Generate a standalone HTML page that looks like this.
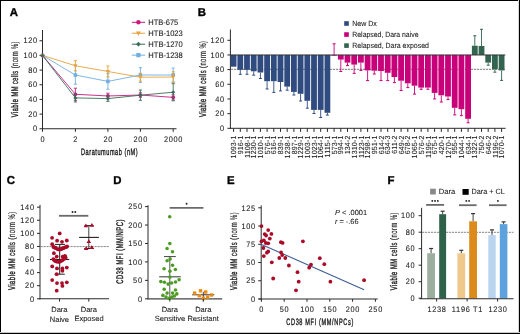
<!DOCTYPE html>
<html><head><meta charset="utf-8"><style>
html,body{margin:0;padding:0;background:#fff;}
svg{display:block;will-change:transform;}
text{font-family:"Liberation Sans", sans-serif;text-rendering:geometricPrecision;}
.t{stroke:#1c1c1c;stroke-width:0.09;}
</style></head><body>
<svg width="520" height="334" viewBox="0 0 520 334">
<rect x="0" y="0" width="520" height="334" fill="#fff"/>
<text x="9.70" y="16.30" font-size="11.4" text-anchor="start" fill="#000" font-weight="bold" stroke="#000" stroke-width="0.35" style="">A</text>
<line x1="42.50" y1="30.00" x2="42.50" y2="129.25" stroke="#2a2a2a" stroke-width="1" />
<line x1="39.50" y1="128.75" x2="42.50" y2="128.75" stroke="#2a2a2a" stroke-width="1" />
<text x="0" y="0" transform="translate(37.89,131.45) scale(0.92,1)" font-size="8.0" text-anchor="end" fill="#1c1c1c" font-weight="normal" class="t" style="letter-spacing:0.75px;">0</text>
<line x1="39.50" y1="114.08" x2="42.50" y2="114.08" stroke="#2a2a2a" stroke-width="1" />
<text x="0" y="0" transform="translate(37.89,116.78) scale(0.92,1)" font-size="8.0" text-anchor="end" fill="#1c1c1c" font-weight="normal" class="t" style="letter-spacing:0.75px;">20</text>
<line x1="39.50" y1="99.42" x2="42.50" y2="99.42" stroke="#2a2a2a" stroke-width="1" />
<text x="0" y="0" transform="translate(37.89,102.12) scale(0.92,1)" font-size="8.0" text-anchor="end" fill="#1c1c1c" font-weight="normal" class="t" style="letter-spacing:0.75px;">40</text>
<line x1="39.50" y1="84.75" x2="42.50" y2="84.75" stroke="#2a2a2a" stroke-width="1" />
<text x="0" y="0" transform="translate(37.89,87.45) scale(0.92,1)" font-size="8.0" text-anchor="end" fill="#1c1c1c" font-weight="normal" class="t" style="letter-spacing:0.75px;">60</text>
<line x1="39.50" y1="70.09" x2="42.50" y2="70.09" stroke="#2a2a2a" stroke-width="1" />
<text x="0" y="0" transform="translate(37.89,72.79) scale(0.92,1)" font-size="8.0" text-anchor="end" fill="#1c1c1c" font-weight="normal" class="t" style="letter-spacing:0.75px;">80</text>
<line x1="39.50" y1="55.42" x2="42.50" y2="55.42" stroke="#2a2a2a" stroke-width="1" />
<text x="0" y="0" transform="translate(37.89,58.12) scale(0.92,1)" font-size="8.0" text-anchor="end" fill="#1c1c1c" font-weight="normal" class="t" style="letter-spacing:0.75px;">100</text>
<line x1="39.50" y1="40.75" x2="42.50" y2="40.75" stroke="#2a2a2a" stroke-width="1" />
<text x="0" y="0" transform="translate(37.89,43.45) scale(0.92,1)" font-size="8.0" text-anchor="end" fill="#1c1c1c" font-weight="normal" class="t" style="letter-spacing:0.75px;">120</text>
<line x1="42.00" y1="128.75" x2="176.50" y2="128.75" stroke="#2a2a2a" stroke-width="1" />
<line x1="42.50" y1="128.75" x2="42.50" y2="131.80" stroke="#2a2a2a" stroke-width="1" />
<text x="0" y="0" transform="translate(42.84,141.70) scale(0.92,1)" font-size="8.0" text-anchor="middle" fill="#1c1c1c" font-weight="normal" class="t" style="letter-spacing:0.75px;">0</text>
<line x1="75.40" y1="128.75" x2="75.40" y2="131.80" stroke="#2a2a2a" stroke-width="1" />
<text x="0" y="0" transform="translate(75.75,141.70) scale(0.92,1)" font-size="8.0" text-anchor="middle" fill="#1c1c1c" font-weight="normal" class="t" style="letter-spacing:0.75px;">2</text>
<line x1="107.90" y1="128.75" x2="107.90" y2="131.80" stroke="#2a2a2a" stroke-width="1" />
<text x="0" y="0" transform="translate(108.25,141.70) scale(0.92,1)" font-size="8.0" text-anchor="middle" fill="#1c1c1c" font-weight="normal" class="t" style="letter-spacing:0.75px;">20</text>
<line x1="140.40" y1="128.75" x2="140.40" y2="131.80" stroke="#2a2a2a" stroke-width="1" />
<text x="0" y="0" transform="translate(140.75,141.70) scale(0.92,1)" font-size="8.0" text-anchor="middle" fill="#1c1c1c" font-weight="normal" class="t" style="letter-spacing:0.75px;">200</text>
<line x1="173.20" y1="128.75" x2="173.20" y2="131.80" stroke="#2a2a2a" stroke-width="1" />
<text x="0" y="0" transform="translate(173.54,141.70) scale(0.92,1)" font-size="8.0" text-anchor="middle" fill="#1c1c1c" font-weight="normal" class="t" style="letter-spacing:0.75px;">2000</text>
<text x="0" y="0" font-size="9.3" text-anchor="start" fill="#1c1c1c" stroke="#1c1c1c" stroke-width="0.4" textLength="94.33" lengthAdjust="spacing" transform="translate(81.00,154.90) scale(0.6,1)">Daratumumab (nM)</text>
<text x="0" y="0" font-size="9.6" text-anchor="middle" fill="#1c1c1c" stroke="#1c1c1c" stroke-width="0.4" textLength="126.00" lengthAdjust="spacing" transform="translate(17.80,79.40) rotate(-90) scale(0.6,1)"><tspan stroke-width="0.4">Viable MM</tspan><tspan stroke-width="0.3"> cells</tspan><tspan stroke-width="0.15"> (norm %)</tspan></text>
<polyline points="42.50,55.42 75.40,65.76 107.90,71.48 140.40,77.20 173.20,77.05" fill="none" stroke="#e6a23c" stroke-width="0.9"/>
<polyline points="42.50,55.42 75.40,75.07 107.90,81.38 140.40,75.00 173.20,75.00" fill="none" stroke="#70aee0" stroke-width="0.9"/>
<polyline points="42.50,55.42 75.40,94.28 107.90,95.97 140.40,95.02 173.20,97.36" fill="none" stroke="#c8197f" stroke-width="0.9"/>
<polyline points="42.50,55.42 75.40,97.88 107.90,98.61 140.40,95.20 173.20,92.23" fill="none" stroke="#3a6e55" stroke-width="0.9"/>
<rect x="40.72" y="53.64" width="3.57" height="3.57" fill="#70aee0"/>
<line x1="75.40" y1="65.91" x2="75.40" y2="84.24" stroke="#70aee0" stroke-width="0.9" />
<line x1="73.80" y1="65.91" x2="77.00" y2="65.91" stroke="#70aee0" stroke-width="0.9" />
<line x1="73.80" y1="84.24" x2="77.00" y2="84.24" stroke="#70aee0" stroke-width="0.9" />
<rect x="73.62" y="73.29" width="3.57" height="3.57" fill="#70aee0"/>
<line x1="107.90" y1="73.46" x2="107.90" y2="89.30" stroke="#70aee0" stroke-width="0.9" />
<line x1="106.30" y1="73.46" x2="109.50" y2="73.46" stroke="#70aee0" stroke-width="0.9" />
<line x1="106.30" y1="89.30" x2="109.50" y2="89.30" stroke="#70aee0" stroke-width="0.9" />
<rect x="106.12" y="79.59" width="3.57" height="3.57" fill="#70aee0"/>
<line x1="140.40" y1="67.67" x2="140.40" y2="82.33" stroke="#70aee0" stroke-width="0.9" />
<line x1="138.80" y1="67.67" x2="142.00" y2="67.67" stroke="#70aee0" stroke-width="0.9" />
<line x1="138.80" y1="82.33" x2="142.00" y2="82.33" stroke="#70aee0" stroke-width="0.9" />
<rect x="138.62" y="73.21" width="3.57" height="3.57" fill="#70aee0"/>
<line x1="173.20" y1="68.03" x2="173.20" y2="81.97" stroke="#70aee0" stroke-width="0.9" />
<line x1="171.60" y1="68.03" x2="174.80" y2="68.03" stroke="#70aee0" stroke-width="0.9" />
<line x1="171.60" y1="81.97" x2="174.80" y2="81.97" stroke="#70aee0" stroke-width="0.9" />
<rect x="171.41" y="73.21" width="3.57" height="3.57" fill="#70aee0"/>
<circle cx="42.50" cy="55.42" r="1.87" fill="#c8197f"/>
<line x1="75.40" y1="88.20" x2="75.40" y2="100.37" stroke="#c8197f" stroke-width="0.9" />
<line x1="73.80" y1="88.20" x2="77.00" y2="88.20" stroke="#c8197f" stroke-width="0.9" />
<line x1="73.80" y1="100.37" x2="77.00" y2="100.37" stroke="#c8197f" stroke-width="0.9" />
<circle cx="75.40" cy="94.28" r="1.87" fill="#c8197f"/>
<line x1="107.90" y1="93.18" x2="107.90" y2="98.76" stroke="#c8197f" stroke-width="0.9" />
<line x1="106.30" y1="93.18" x2="109.50" y2="93.18" stroke="#c8197f" stroke-width="0.9" />
<line x1="106.30" y1="98.76" x2="109.50" y2="98.76" stroke="#c8197f" stroke-width="0.9" />
<circle cx="107.90" cy="95.97" r="1.87" fill="#c8197f"/>
<line x1="140.40" y1="92.82" x2="140.40" y2="97.22" stroke="#c8197f" stroke-width="0.9" />
<line x1="138.80" y1="92.82" x2="142.00" y2="92.82" stroke="#c8197f" stroke-width="0.9" />
<line x1="138.80" y1="97.22" x2="142.00" y2="97.22" stroke="#c8197f" stroke-width="0.9" />
<circle cx="140.40" cy="95.02" r="1.87" fill="#c8197f"/>
<line x1="173.20" y1="94.80" x2="173.20" y2="99.93" stroke="#c8197f" stroke-width="0.9" />
<line x1="171.60" y1="94.80" x2="174.80" y2="94.80" stroke="#c8197f" stroke-width="0.9" />
<line x1="171.60" y1="99.93" x2="174.80" y2="99.93" stroke="#c8197f" stroke-width="0.9" />
<circle cx="173.20" cy="97.36" r="1.87" fill="#c8197f"/>
<polygon points="40.38,53.89 44.62,53.89 42.50,57.46" fill="#e6a23c"/>
<line x1="75.40" y1="60.63" x2="75.40" y2="70.89" stroke="#e6a23c" stroke-width="0.9" />
<line x1="73.80" y1="60.63" x2="77.00" y2="60.63" stroke="#e6a23c" stroke-width="0.9" />
<line x1="73.80" y1="70.89" x2="77.00" y2="70.89" stroke="#e6a23c" stroke-width="0.9" />
<polygon points="73.28,64.23 77.53,64.23 75.40,67.80" fill="#e6a23c"/>
<line x1="107.90" y1="65.98" x2="107.90" y2="76.98" stroke="#e6a23c" stroke-width="0.9" />
<line x1="106.30" y1="65.98" x2="109.50" y2="65.98" stroke="#e6a23c" stroke-width="0.9" />
<line x1="106.30" y1="76.98" x2="109.50" y2="76.98" stroke="#e6a23c" stroke-width="0.9" />
<polygon points="105.78,69.95 110.03,69.95 107.90,73.52" fill="#e6a23c"/>
<line x1="140.40" y1="73.31" x2="140.40" y2="81.09" stroke="#e6a23c" stroke-width="0.9" />
<line x1="138.80" y1="73.31" x2="142.00" y2="73.31" stroke="#e6a23c" stroke-width="0.9" />
<line x1="138.80" y1="81.09" x2="142.00" y2="81.09" stroke="#e6a23c" stroke-width="0.9" />
<polygon points="138.28,75.67 142.53,75.67 140.40,79.24" fill="#e6a23c"/>
<line x1="173.20" y1="71.77" x2="173.20" y2="82.33" stroke="#e6a23c" stroke-width="0.9" />
<line x1="171.60" y1="71.77" x2="174.80" y2="71.77" stroke="#e6a23c" stroke-width="0.9" />
<line x1="171.60" y1="82.33" x2="174.80" y2="82.33" stroke="#e6a23c" stroke-width="0.9" />
<polygon points="171.07,75.52 175.32,75.52 173.20,79.09" fill="#e6a23c"/>
<polygon points="42.50,53.38 44.54,55.42 42.50,57.46 40.46,55.42" fill="#3a6e55"/>
<line x1="75.40" y1="93.77" x2="75.40" y2="101.98" stroke="#3a6e55" stroke-width="0.9" />
<line x1="73.80" y1="93.77" x2="77.00" y2="93.77" stroke="#3a6e55" stroke-width="0.9" />
<line x1="73.80" y1="101.98" x2="77.00" y2="101.98" stroke="#3a6e55" stroke-width="0.9" />
<polygon points="75.40,95.84 77.44,97.88 75.40,99.92 73.36,97.88" fill="#3a6e55"/>
<line x1="107.90" y1="95.82" x2="107.90" y2="101.40" stroke="#3a6e55" stroke-width="0.9" />
<line x1="106.30" y1="95.82" x2="109.50" y2="95.82" stroke="#3a6e55" stroke-width="0.9" />
<line x1="106.30" y1="101.40" x2="109.50" y2="101.40" stroke="#3a6e55" stroke-width="0.9" />
<polygon points="107.90,96.57 109.94,98.61 107.90,100.65 105.86,98.61" fill="#3a6e55"/>
<line x1="140.40" y1="90.07" x2="140.40" y2="100.33" stroke="#3a6e55" stroke-width="0.9" />
<line x1="138.80" y1="90.07" x2="142.00" y2="90.07" stroke="#3a6e55" stroke-width="0.9" />
<line x1="138.80" y1="100.33" x2="142.00" y2="100.33" stroke="#3a6e55" stroke-width="0.9" />
<polygon points="140.40,93.16 142.44,95.20 140.40,97.24 138.36,95.20" fill="#3a6e55"/>
<line x1="173.20" y1="83.65" x2="173.20" y2="100.81" stroke="#3a6e55" stroke-width="0.9" />
<line x1="171.60" y1="83.65" x2="174.80" y2="83.65" stroke="#3a6e55" stroke-width="0.9" />
<line x1="171.60" y1="100.81" x2="174.80" y2="100.81" stroke="#3a6e55" stroke-width="0.9" />
<polygon points="173.20,90.19 175.24,92.23 173.20,94.27 171.16,92.23" fill="#3a6e55"/>
<line x1="131.80" y1="22.30" x2="145.10" y2="22.30" stroke="#c8197f" stroke-width="1.0" />
<circle cx="138.40" cy="22.30" r="2.2" fill="#c8197f"/>
<text x="148.30" y="25.00" font-size="8.0" text-anchor="start" fill="#1c1c1c" font-weight="normal" textLength="30.0" lengthAdjust="spacingAndGlyphs" class="t" style="">HTB-675</text>
<line x1="131.80" y1="33.25" x2="145.10" y2="33.25" stroke="#e6a23c" stroke-width="1.0" />
<polygon points="135.90,31.45 140.90,31.45 138.40,35.65" fill="#e6a23c"/>
<text x="148.30" y="35.95" font-size="8.0" text-anchor="start" fill="#1c1c1c" font-weight="normal" textLength="34.5" lengthAdjust="spacingAndGlyphs" class="t" style="">HTB-1023</text>
<line x1="131.80" y1="44.20" x2="145.10" y2="44.20" stroke="#3a6e55" stroke-width="1.0" />
<polygon points="138.40,41.80 140.80,44.20 138.40,46.60 136.00,44.20" fill="#3a6e55"/>
<text x="148.30" y="46.90" font-size="8.0" text-anchor="start" fill="#1c1c1c" font-weight="normal" textLength="34.5" lengthAdjust="spacingAndGlyphs" class="t" style="">HTB-1270</text>
<line x1="131.80" y1="55.15" x2="145.10" y2="55.15" stroke="#70aee0" stroke-width="1.0" />
<rect x="136.30" y="53.05" width="4.20" height="4.20" fill="#70aee0"/>
<text x="148.30" y="57.85" font-size="8.0" text-anchor="start" fill="#1c1c1c" font-weight="normal" textLength="34.5" lengthAdjust="spacingAndGlyphs" class="t" style="">HTB-1238</text>
<text x="197.80" y="16.30" font-size="11.4" text-anchor="start" fill="#000" font-weight="bold" stroke="#000" stroke-width="0.35" style="">B</text>
<line x1="230.40" y1="29.50" x2="230.40" y2="128.80" stroke="#2a2a2a" stroke-width="1" />
<line x1="227.40" y1="128.30" x2="230.40" y2="128.30" stroke="#2a2a2a" stroke-width="1" />
<text x="0" y="0" transform="translate(224.89,131.00) scale(0.92,1)" font-size="8.0" text-anchor="end" fill="#1c1c1c" font-weight="normal" class="t" style="letter-spacing:0.75px;">0</text>
<line x1="227.40" y1="113.63" x2="230.40" y2="113.63" stroke="#2a2a2a" stroke-width="1" />
<text x="0" y="0" transform="translate(224.89,116.33) scale(0.92,1)" font-size="8.0" text-anchor="end" fill="#1c1c1c" font-weight="normal" class="t" style="letter-spacing:0.75px;">20</text>
<line x1="227.40" y1="98.97" x2="230.40" y2="98.97" stroke="#2a2a2a" stroke-width="1" />
<text x="0" y="0" transform="translate(224.89,101.67) scale(0.92,1)" font-size="8.0" text-anchor="end" fill="#1c1c1c" font-weight="normal" class="t" style="letter-spacing:0.75px;">40</text>
<line x1="227.40" y1="84.30" x2="230.40" y2="84.30" stroke="#2a2a2a" stroke-width="1" />
<text x="0" y="0" transform="translate(224.89,87.00) scale(0.92,1)" font-size="8.0" text-anchor="end" fill="#1c1c1c" font-weight="normal" class="t" style="letter-spacing:0.75px;">60</text>
<line x1="227.40" y1="69.64" x2="230.40" y2="69.64" stroke="#2a2a2a" stroke-width="1" />
<text x="0" y="0" transform="translate(224.89,72.34) scale(0.92,1)" font-size="8.0" text-anchor="end" fill="#1c1c1c" font-weight="normal" class="t" style="letter-spacing:0.75px;">80</text>
<line x1="227.40" y1="54.97" x2="230.40" y2="54.97" stroke="#2a2a2a" stroke-width="1" />
<text x="0" y="0" transform="translate(224.89,57.67) scale(0.92,1)" font-size="8.0" text-anchor="end" fill="#1c1c1c" font-weight="normal" class="t" style="letter-spacing:0.75px;">100</text>
<line x1="227.40" y1="40.30" x2="230.40" y2="40.30" stroke="#2a2a2a" stroke-width="1" />
<text x="0" y="0" transform="translate(224.89,43.00) scale(0.92,1)" font-size="8.0" text-anchor="end" fill="#1c1c1c" font-weight="normal" class="t" style="letter-spacing:0.75px;">120</text>
<text x="0" y="0" font-size="9.6" text-anchor="middle" fill="#1c1c1c" stroke="#1c1c1c" stroke-width="0.4" textLength="126.50" lengthAdjust="spacing" transform="translate(205.70,79.05) rotate(-90) scale(0.6,1)"><tspan stroke-width="0.4">Viable MM</tspan><tspan stroke-width="0.3"> cells</tspan><tspan stroke-width="0.15"> (norm %)</tspan></text>
<line x1="230.90" y1="69.30" x2="505.00" y2="69.30" stroke="#5a5a5a" stroke-width="0.8" stroke-dasharray="2.2,0.8"/>
<rect x="230.70" y="54.97" width="5.80" height="11.73" fill="#2f4b80"/>
<line x1="233.60" y1="128.30" x2="233.60" y2="131.90" stroke="#2a2a2a" stroke-width="1" />
<text class="t" x="0.2" y="0" font-size="7.4" text-anchor="end" fill="#1c1c1c" style="letter-spacing:0.2px" transform="translate(236.25,135.6) rotate(-90) scale(0.95,1)">1093-1</text>
<rect x="237.40" y="54.97" width="5.80" height="14.83" fill="#2f4b80"/>
<line x1="240.30" y1="69.80" x2="240.30" y2="74.30" stroke="#2f4b80" stroke-width="0.9" />
<line x1="238.80" y1="74.30" x2="241.80" y2="74.30" stroke="#2f4b80" stroke-width="1.0" />
<line x1="240.30" y1="128.30" x2="240.30" y2="131.90" stroke="#2a2a2a" stroke-width="1" />
<text class="t" x="0.2" y="0" font-size="7.4" text-anchor="end" fill="#1c1c1c" style="letter-spacing:0.2px" transform="translate(242.95,135.6) rotate(-90) scale(0.95,1)">916-1</text>
<rect x="244.10" y="54.97" width="5.80" height="14.83" fill="#2f4b80"/>
<line x1="247.00" y1="69.80" x2="247.00" y2="74.30" stroke="#2f4b80" stroke-width="0.9" />
<line x1="245.50" y1="74.30" x2="248.50" y2="74.30" stroke="#2f4b80" stroke-width="1.0" />
<line x1="247.00" y1="128.30" x2="247.00" y2="131.90" stroke="#2a2a2a" stroke-width="1" />
<text class="t" x="0.2" y="0" font-size="7.4" text-anchor="end" fill="#1c1c1c" style="letter-spacing:0.2px" transform="translate(249.65,135.6) rotate(-90) scale(0.95,1)">1108-1</text>
<rect x="250.80" y="54.97" width="5.80" height="16.33" fill="#2f4b80"/>
<line x1="253.70" y1="71.30" x2="253.70" y2="75.20" stroke="#2f4b80" stroke-width="0.9" />
<line x1="252.20" y1="75.20" x2="255.20" y2="75.20" stroke="#2f4b80" stroke-width="1.0" />
<line x1="253.70" y1="128.30" x2="253.70" y2="131.90" stroke="#2a2a2a" stroke-width="1" />
<text class="t" x="0.2" y="0" font-size="7.4" text-anchor="end" fill="#1c1c1c" style="letter-spacing:0.2px" transform="translate(256.35,135.6) rotate(-90) scale(0.95,1)">1230-1</text>
<rect x="257.50" y="54.97" width="5.80" height="17.53" fill="#2f4b80"/>
<line x1="260.40" y1="72.50" x2="260.40" y2="78.50" stroke="#2f4b80" stroke-width="0.9" />
<line x1="258.90" y1="78.50" x2="261.90" y2="78.50" stroke="#2f4b80" stroke-width="1.0" />
<line x1="260.40" y1="128.30" x2="260.40" y2="131.90" stroke="#2a2a2a" stroke-width="1" />
<text class="t" x="0.2" y="0" font-size="7.4" text-anchor="end" fill="#1c1c1c" style="letter-spacing:0.2px" transform="translate(263.05,135.6) rotate(-90) scale(0.95,1)">1010-1</text>
<rect x="264.20" y="54.97" width="5.80" height="26.23" fill="#2f4b80"/>
<line x1="267.10" y1="81.20" x2="267.10" y2="89.00" stroke="#2f4b80" stroke-width="0.9" />
<line x1="265.60" y1="89.00" x2="268.60" y2="89.00" stroke="#2f4b80" stroke-width="1.0" />
<line x1="267.10" y1="128.30" x2="267.10" y2="131.90" stroke="#2a2a2a" stroke-width="1" />
<text class="t" x="0.2" y="0" font-size="7.4" text-anchor="end" fill="#1c1c1c" style="letter-spacing:0.2px" transform="translate(269.75,135.6) rotate(-90) scale(0.95,1)">576-1</text>
<rect x="270.90" y="54.97" width="5.80" height="26.23" fill="#2f4b80"/>
<line x1="273.80" y1="81.20" x2="273.80" y2="92.40" stroke="#2f4b80" stroke-width="0.9" />
<line x1="272.30" y1="92.40" x2="275.30" y2="92.40" stroke="#2f4b80" stroke-width="1.0" />
<line x1="273.80" y1="128.30" x2="273.80" y2="131.90" stroke="#2a2a2a" stroke-width="1" />
<text class="t" x="0.2" y="0" font-size="7.4" text-anchor="end" fill="#1c1c1c" style="letter-spacing:0.2px" transform="translate(276.45,135.6) rotate(-90) scale(0.95,1)">616-1</text>
<rect x="277.60" y="54.97" width="5.80" height="27.03" fill="#2f4b80"/>
<line x1="280.50" y1="82.00" x2="280.50" y2="90.90" stroke="#2f4b80" stroke-width="0.9" />
<line x1="279.00" y1="90.90" x2="282.00" y2="90.90" stroke="#2f4b80" stroke-width="1.0" />
<line x1="280.50" y1="128.30" x2="280.50" y2="131.90" stroke="#2a2a2a" stroke-width="1" />
<text class="t" x="0.2" y="0" font-size="7.4" text-anchor="end" fill="#1c1c1c" style="letter-spacing:0.2px" transform="translate(283.15,135.6) rotate(-90) scale(0.95,1)">839-1</text>
<rect x="284.30" y="54.97" width="5.80" height="31.63" fill="#2f4b80"/>
<line x1="287.20" y1="86.60" x2="287.20" y2="90.20" stroke="#2f4b80" stroke-width="0.9" />
<line x1="285.70" y1="90.20" x2="288.70" y2="90.20" stroke="#2f4b80" stroke-width="1.0" />
<line x1="287.20" y1="128.30" x2="287.20" y2="131.90" stroke="#2a2a2a" stroke-width="1" />
<text class="t" x="0.2" y="0" font-size="7.4" text-anchor="end" fill="#1c1c1c" style="letter-spacing:0.2px" transform="translate(289.85,135.6) rotate(-90) scale(0.95,1)">1238-1</text>
<rect x="291.00" y="54.97" width="5.80" height="36.93" fill="#2f4b80"/>
<line x1="293.90" y1="91.90" x2="293.90" y2="95.00" stroke="#2f4b80" stroke-width="0.9" />
<line x1="292.40" y1="95.00" x2="295.40" y2="95.00" stroke="#2f4b80" stroke-width="1.0" />
<line x1="293.90" y1="128.30" x2="293.90" y2="131.90" stroke="#2a2a2a" stroke-width="1" />
<text class="t" x="0.2" y="0" font-size="7.4" text-anchor="end" fill="#1c1c1c" style="letter-spacing:0.2px" transform="translate(296.55,135.6) rotate(-90) scale(0.95,1)">897-1</text>
<rect x="297.70" y="54.97" width="5.80" height="38.83" fill="#2f4b80"/>
<line x1="300.60" y1="93.80" x2="300.60" y2="101.00" stroke="#2f4b80" stroke-width="0.9" />
<line x1="299.10" y1="101.00" x2="302.10" y2="101.00" stroke="#2f4b80" stroke-width="1.0" />
<line x1="300.60" y1="128.30" x2="300.60" y2="131.90" stroke="#2a2a2a" stroke-width="1" />
<text class="t" x="0.2" y="0" font-size="7.4" text-anchor="end" fill="#1c1c1c" style="letter-spacing:0.2px" transform="translate(303.25,135.6) rotate(-90) scale(0.95,1)">1229-1</text>
<rect x="304.40" y="54.97" width="5.80" height="45.83" fill="#2f4b80"/>
<line x1="307.30" y1="100.80" x2="307.30" y2="108.20" stroke="#2f4b80" stroke-width="0.9" />
<line x1="305.80" y1="108.20" x2="308.80" y2="108.20" stroke="#2f4b80" stroke-width="1.0" />
<line x1="307.30" y1="128.30" x2="307.30" y2="131.90" stroke="#2a2a2a" stroke-width="1" />
<text class="t" x="0.2" y="0" font-size="7.4" text-anchor="end" fill="#1c1c1c" style="letter-spacing:0.2px" transform="translate(309.95,135.6) rotate(-90) scale(0.95,1)">1003-1</text>
<rect x="311.10" y="54.97" width="5.80" height="54.93" fill="#2f4b80"/>
<line x1="314.00" y1="109.90" x2="314.00" y2="113.50" stroke="#2f4b80" stroke-width="0.9" />
<line x1="312.50" y1="113.50" x2="315.50" y2="113.50" stroke="#2f4b80" stroke-width="1.0" />
<line x1="314.00" y1="128.30" x2="314.00" y2="131.90" stroke="#2a2a2a" stroke-width="1" />
<text class="t" x="0.2" y="0" font-size="7.4" text-anchor="end" fill="#1c1c1c" style="letter-spacing:0.2px" transform="translate(316.65,135.6) rotate(-90) scale(0.95,1)">1023-1</text>
<rect x="317.80" y="54.97" width="5.80" height="54.93" fill="#2f4b80"/>
<line x1="320.70" y1="109.90" x2="320.70" y2="117.50" stroke="#2f4b80" stroke-width="0.9" />
<line x1="319.20" y1="117.50" x2="322.20" y2="117.50" stroke="#2f4b80" stroke-width="1.0" />
<line x1="320.70" y1="128.30" x2="320.70" y2="131.90" stroke="#2a2a2a" stroke-width="1" />
<text class="t" x="0.2" y="0" font-size="7.4" text-anchor="end" fill="#1c1c1c" style="letter-spacing:0.2px" transform="translate(323.35,135.6) rotate(-90) scale(0.95,1)">1064-1</text>
<rect x="324.50" y="54.97" width="5.80" height="57.83" fill="#2f4b80"/>
<line x1="327.40" y1="112.80" x2="327.40" y2="115.10" stroke="#2f4b80" stroke-width="0.9" />
<line x1="325.90" y1="115.10" x2="328.90" y2="115.10" stroke="#2f4b80" stroke-width="1.0" />
<line x1="327.40" y1="128.30" x2="327.40" y2="131.90" stroke="#2a2a2a" stroke-width="1" />
<text class="t" x="0.2" y="0" font-size="7.4" text-anchor="end" fill="#1c1c1c" style="letter-spacing:0.2px" transform="translate(330.05,135.6) rotate(-90) scale(0.95,1)">1115-1</text>
<rect x="331.20" y="54.97" width="5.80" height="0.63" fill="#c8007a"/>
<line x1="334.10" y1="55.60" x2="334.10" y2="43.80" stroke="#c8007a" stroke-width="0.9" />
<line x1="332.60" y1="43.80" x2="335.60" y2="43.80" stroke="#c8007a" stroke-width="1.0" />
<line x1="334.10" y1="128.30" x2="334.10" y2="131.90" stroke="#2a2a2a" stroke-width="1" />
<text class="t" x="0.2" y="0" font-size="7.4" text-anchor="end" fill="#1c1c1c" style="letter-spacing:0.2px" transform="translate(336.75,135.6) rotate(-90) scale(0.95,1)">573-1</text>
<rect x="337.90" y="54.97" width="5.80" height="4.63" fill="#c8007a"/>
<line x1="340.80" y1="59.60" x2="340.80" y2="71.50" stroke="#c8007a" stroke-width="0.9" />
<line x1="339.30" y1="71.50" x2="342.30" y2="71.50" stroke="#c8007a" stroke-width="1.0" />
<line x1="340.80" y1="128.30" x2="340.80" y2="131.90" stroke="#2a2a2a" stroke-width="1" />
<text class="t" x="0.2" y="0" font-size="7.4" text-anchor="end" fill="#1c1c1c" style="letter-spacing:0.2px" transform="translate(343.45,135.6) rotate(-90) scale(0.95,1)">994-1</text>
<rect x="344.60" y="54.97" width="5.80" height="7.63" fill="#c8007a"/>
<line x1="347.50" y1="62.60" x2="347.50" y2="65.60" stroke="#c8007a" stroke-width="0.9" />
<line x1="346.00" y1="65.60" x2="349.00" y2="65.60" stroke="#c8007a" stroke-width="1.0" />
<line x1="347.50" y1="128.30" x2="347.50" y2="131.90" stroke="#2a2a2a" stroke-width="1" />
<text class="t" x="0.2" y="0" font-size="7.4" text-anchor="end" fill="#1c1c1c" style="letter-spacing:0.2px" transform="translate(350.15,135.6) rotate(-90) scale(0.95,1)">134-2</text>
<rect x="351.30" y="54.97" width="5.80" height="9.63" fill="#c8007a"/>
<line x1="354.20" y1="64.60" x2="354.20" y2="73.40" stroke="#c8007a" stroke-width="0.9" />
<line x1="352.70" y1="73.40" x2="355.70" y2="73.40" stroke="#c8007a" stroke-width="1.0" />
<line x1="354.20" y1="128.30" x2="354.20" y2="131.90" stroke="#2a2a2a" stroke-width="1" />
<text class="t" x="0.2" y="0" font-size="7.4" text-anchor="end" fill="#1c1c1c" style="letter-spacing:0.2px" transform="translate(356.85,135.6) rotate(-90) scale(0.95,1)">1310-1</text>
<rect x="358.00" y="54.97" width="5.80" height="7.63" fill="#c8007a"/>
<line x1="360.90" y1="62.60" x2="360.90" y2="70.40" stroke="#c8007a" stroke-width="0.9" />
<line x1="359.40" y1="70.40" x2="362.40" y2="70.40" stroke="#c8007a" stroke-width="1.0" />
<line x1="360.90" y1="128.30" x2="360.90" y2="131.90" stroke="#2a2a2a" stroke-width="1" />
<text class="t" x="0.2" y="0" font-size="7.4" text-anchor="end" fill="#1c1c1c" style="letter-spacing:0.2px" transform="translate(363.55,135.6) rotate(-90) scale(0.95,1)">1123-1</text>
<rect x="364.70" y="54.97" width="5.80" height="15.43" fill="#c8007a"/>
<line x1="367.60" y1="70.40" x2="367.60" y2="80.60" stroke="#c8007a" stroke-width="0.9" />
<line x1="366.10" y1="80.60" x2="369.10" y2="80.60" stroke="#c8007a" stroke-width="1.0" />
<line x1="367.60" y1="128.30" x2="367.60" y2="131.90" stroke="#2a2a2a" stroke-width="1" />
<text class="t" x="0.2" y="0" font-size="7.4" text-anchor="end" fill="#1c1c1c" style="letter-spacing:0.2px" transform="translate(370.25,135.6) rotate(-90) scale(0.95,1)">1298-1</text>
<rect x="371.40" y="54.97" width="5.80" height="15.73" fill="#c8007a"/>
<line x1="374.30" y1="70.70" x2="374.30" y2="74.00" stroke="#c8007a" stroke-width="0.9" />
<line x1="372.80" y1="74.00" x2="375.80" y2="74.00" stroke="#c8007a" stroke-width="1.0" />
<line x1="374.30" y1="128.30" x2="374.30" y2="131.90" stroke="#2a2a2a" stroke-width="1" />
<text class="t" x="0.2" y="0" font-size="7.4" text-anchor="end" fill="#1c1c1c" style="letter-spacing:0.2px" transform="translate(376.95,135.6) rotate(-90) scale(0.95,1)">951-1</text>
<rect x="378.10" y="54.97" width="5.80" height="16.03" fill="#c8007a"/>
<line x1="381.00" y1="71.00" x2="381.00" y2="80.60" stroke="#c8007a" stroke-width="0.9" />
<line x1="379.50" y1="80.60" x2="382.50" y2="80.60" stroke="#c8007a" stroke-width="1.0" />
<line x1="381.00" y1="128.30" x2="381.00" y2="131.90" stroke="#2a2a2a" stroke-width="1" />
<text class="t" x="0.2" y="0" font-size="7.4" text-anchor="end" fill="#1c1c1c" style="letter-spacing:0.2px" transform="translate(383.65,135.6) rotate(-90) scale(0.95,1)">614-2</text>
<rect x="384.80" y="54.97" width="5.80" height="17.83" fill="#c8007a"/>
<line x1="387.70" y1="72.80" x2="387.70" y2="80.60" stroke="#c8007a" stroke-width="0.9" />
<line x1="386.20" y1="80.60" x2="389.20" y2="80.60" stroke="#c8007a" stroke-width="1.0" />
<line x1="387.70" y1="128.30" x2="387.70" y2="131.90" stroke="#2a2a2a" stroke-width="1" />
<text class="t" x="0.2" y="0" font-size="7.4" text-anchor="end" fill="#1c1c1c" style="letter-spacing:0.2px" transform="translate(390.35,135.6) rotate(-90) scale(0.95,1)">634-3</text>
<rect x="391.50" y="54.97" width="5.80" height="22.03" fill="#c8007a"/>
<line x1="394.40" y1="77.00" x2="394.40" y2="82.60" stroke="#c8007a" stroke-width="0.9" />
<line x1="392.90" y1="82.60" x2="395.90" y2="82.60" stroke="#c8007a" stroke-width="1.0" />
<line x1="394.40" y1="128.30" x2="394.40" y2="131.90" stroke="#2a2a2a" stroke-width="1" />
<text class="t" x="0.2" y="0" font-size="7.4" text-anchor="end" fill="#1c1c1c" style="letter-spacing:0.2px" transform="translate(397.05,135.6) rotate(-90) scale(0.95,1)">611-2</text>
<rect x="398.20" y="54.97" width="5.80" height="25.73" fill="#c8007a"/>
<line x1="401.10" y1="80.70" x2="401.10" y2="90.50" stroke="#c8007a" stroke-width="0.9" />
<line x1="399.60" y1="90.50" x2="402.60" y2="90.50" stroke="#c8007a" stroke-width="1.0" />
<line x1="401.10" y1="128.30" x2="401.10" y2="131.90" stroke="#2a2a2a" stroke-width="1" />
<text class="t" x="0.2" y="0" font-size="7.4" text-anchor="end" fill="#1c1c1c" style="letter-spacing:0.2px" transform="translate(403.75,135.6) rotate(-90) scale(0.95,1)">649-2</text>
<rect x="404.90" y="54.97" width="5.80" height="28.33" fill="#c8007a"/>
<line x1="407.80" y1="83.30" x2="407.80" y2="87.60" stroke="#c8007a" stroke-width="0.9" />
<line x1="406.30" y1="87.60" x2="409.30" y2="87.60" stroke="#c8007a" stroke-width="1.0" />
<line x1="407.80" y1="128.30" x2="407.80" y2="131.90" stroke="#2a2a2a" stroke-width="1" />
<text class="t" x="0.2" y="0" font-size="7.4" text-anchor="end" fill="#1c1c1c" style="letter-spacing:0.2px" transform="translate(410.45,135.6) rotate(-90) scale(0.95,1)">678-2</text>
<rect x="411.60" y="54.97" width="5.80" height="30.73" fill="#c8007a"/>
<line x1="414.50" y1="85.70" x2="414.50" y2="94.10" stroke="#c8007a" stroke-width="0.9" />
<line x1="413.00" y1="94.10" x2="416.00" y2="94.10" stroke="#c8007a" stroke-width="1.0" />
<line x1="414.50" y1="128.30" x2="414.50" y2="131.90" stroke="#2a2a2a" stroke-width="1" />
<text class="t" x="0.2" y="0" font-size="7.4" text-anchor="end" fill="#1c1c1c" style="letter-spacing:0.2px" transform="translate(417.15,135.6) rotate(-90) scale(0.95,1)">1065-1</text>
<rect x="418.30" y="54.97" width="5.80" height="32.63" fill="#c8007a"/>
<line x1="421.20" y1="87.60" x2="421.20" y2="89.30" stroke="#c8007a" stroke-width="0.9" />
<line x1="419.70" y1="89.30" x2="422.70" y2="89.30" stroke="#c8007a" stroke-width="1.0" />
<line x1="421.20" y1="128.30" x2="421.20" y2="131.90" stroke="#2a2a2a" stroke-width="1" />
<text class="t" x="0.2" y="0" font-size="7.4" text-anchor="end" fill="#1c1c1c" style="letter-spacing:0.2px" transform="translate(423.85,135.6) rotate(-90) scale(0.95,1)">576-2</text>
<rect x="425.00" y="54.97" width="5.80" height="32.63" fill="#c8007a"/>
<line x1="427.90" y1="87.60" x2="427.90" y2="89.30" stroke="#c8007a" stroke-width="0.9" />
<line x1="426.40" y1="89.30" x2="429.40" y2="89.30" stroke="#c8007a" stroke-width="1.0" />
<line x1="427.90" y1="128.30" x2="427.90" y2="131.90" stroke="#2a2a2a" stroke-width="1" />
<text class="t" x="0.2" y="0" font-size="7.4" text-anchor="end" fill="#1c1c1c" style="letter-spacing:0.2px" transform="translate(430.55,135.6) rotate(-90) scale(0.95,1)">1196-1</text>
<rect x="431.70" y="54.97" width="5.80" height="37.93" fill="#c8007a"/>
<line x1="434.60" y1="92.90" x2="434.60" y2="98.90" stroke="#c8007a" stroke-width="0.9" />
<line x1="433.10" y1="98.90" x2="436.10" y2="98.90" stroke="#c8007a" stroke-width="1.0" />
<line x1="434.60" y1="128.30" x2="434.60" y2="131.90" stroke="#2a2a2a" stroke-width="1" />
<text class="t" x="0.2" y="0" font-size="7.4" text-anchor="end" fill="#1c1c1c" style="letter-spacing:0.2px" transform="translate(437.25,135.6) rotate(-90) scale(0.95,1)">675-1</text>
<rect x="438.40" y="54.97" width="5.80" height="40.33" fill="#c8007a"/>
<line x1="441.30" y1="95.30" x2="441.30" y2="102.00" stroke="#c8007a" stroke-width="0.9" />
<line x1="439.80" y1="102.00" x2="442.80" y2="102.00" stroke="#c8007a" stroke-width="1.0" />
<line x1="441.30" y1="128.30" x2="441.30" y2="131.90" stroke="#2a2a2a" stroke-width="1" />
<text class="t" x="0.2" y="0" font-size="7.4" text-anchor="end" fill="#1c1c1c" style="letter-spacing:0.2px" transform="translate(443.95,135.6) rotate(-90) scale(0.95,1)">420-1</text>
<rect x="445.10" y="54.97" width="5.80" height="41.53" fill="#c8007a"/>
<line x1="448.00" y1="96.50" x2="448.00" y2="99.60" stroke="#c8007a" stroke-width="0.9" />
<line x1="446.50" y1="99.60" x2="449.50" y2="99.60" stroke="#c8007a" stroke-width="1.0" />
<line x1="448.00" y1="128.30" x2="448.00" y2="131.90" stroke="#2a2a2a" stroke-width="1" />
<text class="t" x="0.2" y="0" font-size="7.4" text-anchor="end" fill="#1c1c1c" style="letter-spacing:0.2px" transform="translate(450.65,135.6) rotate(-90) scale(0.95,1)">1270-1</text>
<rect x="451.80" y="54.97" width="5.80" height="52.83" fill="#c8007a"/>
<line x1="454.70" y1="107.80" x2="454.70" y2="114.90" stroke="#c8007a" stroke-width="0.9" />
<line x1="453.20" y1="114.90" x2="456.20" y2="114.90" stroke="#c8007a" stroke-width="1.0" />
<line x1="454.70" y1="128.30" x2="454.70" y2="131.90" stroke="#2a2a2a" stroke-width="1" />
<text class="t" x="0.2" y="0" font-size="7.4" text-anchor="end" fill="#1c1c1c" style="letter-spacing:0.2px" transform="translate(457.35,135.6) rotate(-90) scale(0.95,1)">955-1</text>
<rect x="458.50" y="54.97" width="5.80" height="54.23" fill="#c8007a"/>
<line x1="461.40" y1="109.20" x2="461.40" y2="115.70" stroke="#c8007a" stroke-width="0.9" />
<line x1="459.90" y1="115.70" x2="462.90" y2="115.70" stroke="#c8007a" stroke-width="1.0" />
<line x1="461.40" y1="128.30" x2="461.40" y2="131.90" stroke="#2a2a2a" stroke-width="1" />
<text class="t" x="0.2" y="0" font-size="7.4" text-anchor="end" fill="#1c1c1c" style="letter-spacing:0.2px" transform="translate(464.05,135.6) rotate(-90) scale(0.95,1)">1044-1</text>
<rect x="465.20" y="54.97" width="5.80" height="63.83" fill="#c8007a"/>
<line x1="468.10" y1="118.80" x2="468.10" y2="122.80" stroke="#c8007a" stroke-width="0.9" />
<line x1="466.60" y1="122.80" x2="469.60" y2="122.80" stroke="#c8007a" stroke-width="1.0" />
<line x1="468.10" y1="128.30" x2="468.10" y2="131.90" stroke="#2a2a2a" stroke-width="1" />
<text class="t" x="0.2" y="0" font-size="7.4" text-anchor="end" fill="#1c1c1c" style="letter-spacing:0.2px" transform="translate(470.75,135.6) rotate(-90) scale(0.95,1)">634-1</text>
<rect x="471.90" y="45.70" width="5.80" height="9.27" fill="#326450"/>
<line x1="474.80" y1="45.70" x2="474.80" y2="35.80" stroke="#326450" stroke-width="0.9" />
<line x1="473.30" y1="35.80" x2="476.30" y2="35.80" stroke="#326450" stroke-width="1.0" />
<line x1="474.80" y1="128.30" x2="474.80" y2="131.90" stroke="#2a2a2a" stroke-width="1" />
<text class="t" x="0.2" y="0" font-size="7.4" text-anchor="end" fill="#1c1c1c" style="letter-spacing:0.2px" transform="translate(477.45,135.6) rotate(-90) scale(0.95,1)">1322-1</text>
<rect x="478.60" y="46.00" width="5.80" height="8.97" fill="#326450"/>
<line x1="481.50" y1="46.00" x2="481.50" y2="29.30" stroke="#326450" stroke-width="0.9" />
<line x1="480.00" y1="29.30" x2="483.00" y2="29.30" stroke="#326450" stroke-width="1.0" />
<line x1="481.50" y1="128.30" x2="481.50" y2="131.90" stroke="#2a2a2a" stroke-width="1" />
<text class="t" x="0.2" y="0" font-size="7.4" text-anchor="end" fill="#1c1c1c" style="letter-spacing:0.2px" transform="translate(484.15,135.6) rotate(-90) scale(0.95,1)">750-2</text>
<rect x="485.30" y="54.97" width="5.80" height="7.63" fill="#326450"/>
<line x1="488.20" y1="62.60" x2="488.20" y2="65.20" stroke="#326450" stroke-width="0.9" />
<line x1="486.70" y1="65.20" x2="489.70" y2="65.20" stroke="#326450" stroke-width="1.0" />
<line x1="488.20" y1="128.30" x2="488.20" y2="131.90" stroke="#2a2a2a" stroke-width="1" />
<text class="t" x="0.2" y="0" font-size="7.4" text-anchor="end" fill="#1c1c1c" style="letter-spacing:0.2px" transform="translate(490.85,135.6) rotate(-90) scale(0.95,1)">646-2</text>
<rect x="492.00" y="54.97" width="5.80" height="14.13" fill="#326450"/>
<line x1="494.90" y1="69.10" x2="494.90" y2="72.20" stroke="#326450" stroke-width="0.9" />
<line x1="493.40" y1="72.20" x2="496.40" y2="72.20" stroke="#326450" stroke-width="1.0" />
<line x1="494.90" y1="128.30" x2="494.90" y2="131.90" stroke="#2a2a2a" stroke-width="1" />
<text class="t" x="0.2" y="0" font-size="7.4" text-anchor="end" fill="#1c1c1c" style="letter-spacing:0.2px" transform="translate(497.55,135.6) rotate(-90) scale(0.95,1)">1196-2</text>
<rect x="498.70" y="54.97" width="5.80" height="15.43" fill="#326450"/>
<line x1="501.60" y1="70.40" x2="501.60" y2="80.40" stroke="#326450" stroke-width="0.9" />
<line x1="500.10" y1="80.40" x2="503.10" y2="80.40" stroke="#326450" stroke-width="1.0" />
<line x1="501.60" y1="128.30" x2="501.60" y2="131.90" stroke="#2a2a2a" stroke-width="1" />
<text class="t" x="0.2" y="0" font-size="7.4" text-anchor="end" fill="#1c1c1c" style="letter-spacing:0.2px" transform="translate(504.25,135.6) rotate(-90) scale(0.95,1)">1070-1</text>
<line x1="230.90" y1="54.97" x2="505.30" y2="54.97" stroke="#333" stroke-width="1" />
<line x1="230.00" y1="128.30" x2="505.60" y2="128.30" stroke="#2a2a2a" stroke-width="1" />
<rect x="344.20" y="21.20" width="4.60" height="4.60" fill="#2f4b80"/>
<text x="352.30" y="26.10" font-size="7.6" text-anchor="start" fill="#1c1c1c" font-weight="normal" textLength="24.6" lengthAdjust="spacingAndGlyphs" class="t" style="">New Dx</text>
<rect x="344.20" y="32.25" width="4.60" height="4.60" fill="#c8007a"/>
<text x="352.30" y="37.15" font-size="7.6" text-anchor="start" fill="#1c1c1c" font-weight="normal" textLength="66.2" lengthAdjust="spacingAndGlyphs" class="t" style="">Relapsed, Dara naive</text>
<rect x="344.20" y="43.30" width="4.60" height="4.60" fill="#326450"/>
<text x="352.30" y="48.20" font-size="7.6" text-anchor="start" fill="#1c1c1c" font-weight="normal" textLength="76.6" lengthAdjust="spacingAndGlyphs" class="t" style="">Relapsed, Dara exposed</text>
<text x="6.80" y="183.70" font-size="11.4" text-anchor="start" fill="#000" font-weight="bold" stroke="#000" stroke-width="0.35" style="">C</text>
<line x1="40.00" y1="204.80" x2="40.00" y2="299.30" stroke="#2a2a2a" stroke-width="1" />
<line x1="37.00" y1="298.80" x2="40.00" y2="298.80" stroke="#2a2a2a" stroke-width="1" />
<text x="0" y="0" transform="translate(34.69,301.50) scale(0.92,1)" font-size="8.0" text-anchor="end" fill="#1c1c1c" font-weight="normal" class="t" style="letter-spacing:0.75px;">0</text>
<line x1="37.00" y1="285.71" x2="40.00" y2="285.71" stroke="#2a2a2a" stroke-width="1" />
<text x="0" y="0" transform="translate(34.69,288.41) scale(0.92,1)" font-size="8.0" text-anchor="end" fill="#1c1c1c" font-weight="normal" class="t" style="letter-spacing:0.75px;">20</text>
<line x1="37.00" y1="272.62" x2="40.00" y2="272.62" stroke="#2a2a2a" stroke-width="1" />
<text x="0" y="0" transform="translate(34.69,275.32) scale(0.92,1)" font-size="8.0" text-anchor="end" fill="#1c1c1c" font-weight="normal" class="t" style="letter-spacing:0.75px;">40</text>
<line x1="37.00" y1="259.53" x2="40.00" y2="259.53" stroke="#2a2a2a" stroke-width="1" />
<text x="0" y="0" transform="translate(34.69,262.23) scale(0.92,1)" font-size="8.0" text-anchor="end" fill="#1c1c1c" font-weight="normal" class="t" style="letter-spacing:0.75px;">60</text>
<line x1="37.00" y1="246.44" x2="40.00" y2="246.44" stroke="#2a2a2a" stroke-width="1" />
<text x="0" y="0" transform="translate(34.69,249.14) scale(0.92,1)" font-size="8.0" text-anchor="end" fill="#1c1c1c" font-weight="normal" class="t" style="letter-spacing:0.75px;">80</text>
<line x1="37.00" y1="233.35" x2="40.00" y2="233.35" stroke="#2a2a2a" stroke-width="1" />
<text x="0" y="0" transform="translate(34.69,236.05) scale(0.92,1)" font-size="8.0" text-anchor="end" fill="#1c1c1c" font-weight="normal" class="t" style="letter-spacing:0.75px;">100</text>
<line x1="37.00" y1="220.26" x2="40.00" y2="220.26" stroke="#2a2a2a" stroke-width="1" />
<text x="0" y="0" transform="translate(34.69,222.96) scale(0.92,1)" font-size="8.0" text-anchor="end" fill="#1c1c1c" font-weight="normal" class="t" style="letter-spacing:0.75px;">120</text>
<line x1="37.00" y1="207.17" x2="40.00" y2="207.17" stroke="#2a2a2a" stroke-width="1" />
<text x="0" y="0" transform="translate(34.69,209.87) scale(0.92,1)" font-size="8.0" text-anchor="end" fill="#1c1c1c" font-weight="normal" class="t" style="letter-spacing:0.75px;">140</text>
<text x="0" y="0" font-size="9.6" text-anchor="middle" fill="#1c1c1c" stroke="#1c1c1c" stroke-width="0.4" textLength="130.17" lengthAdjust="spacing" transform="translate(14.90,250.95) rotate(-90) scale(0.6,1)"><tspan stroke-width="0.4">Viable MM</tspan><tspan stroke-width="0.3"> cells</tspan><tspan stroke-width="0.15"> (norm %)</tspan></text>
<line x1="40.50" y1="246.60" x2="109.00" y2="246.60" stroke="#6a6a6a" stroke-width="0.8" stroke-dasharray="2.2,0.8"/>
<line x1="39.50" y1="298.80" x2="109.00" y2="298.80" stroke="#2a2a2a" stroke-width="1.1" />
<line x1="59.70" y1="244.40" x2="59.70" y2="274.20" stroke="#222" stroke-width="1" />
<line x1="54.90" y1="244.40" x2="65.00" y2="244.40" stroke="#222" stroke-width="1" />
<line x1="54.60" y1="274.20" x2="64.80" y2="274.20" stroke="#222" stroke-width="1" />
<line x1="50.00" y1="259.50" x2="69.30" y2="259.50" stroke="#222" stroke-width="1.1" />
<circle cx="59.70" cy="233.40" r="1.9" fill="#aa0a28"/>
<circle cx="52.10" cy="237.80" r="1.9" fill="#aa0a28"/>
<circle cx="57.10" cy="240.70" r="1.9" fill="#aa0a28"/>
<circle cx="62.00" cy="241.80" r="1.9" fill="#aa0a28"/>
<circle cx="66.80" cy="240.50" r="1.9" fill="#aa0a28"/>
<circle cx="52.20" cy="244.20" r="1.9" fill="#aa0a28"/>
<circle cx="53.40" cy="246.90" r="1.9" fill="#aa0a28"/>
<circle cx="55.60" cy="248.00" r="1.9" fill="#aa0a28"/>
<circle cx="57.50" cy="249.10" r="1.9" fill="#aa0a28"/>
<circle cx="59.70" cy="249.50" r="1.9" fill="#aa0a28"/>
<circle cx="62.00" cy="248.70" r="1.9" fill="#aa0a28"/>
<circle cx="64.60" cy="247.60" r="1.9" fill="#aa0a28"/>
<circle cx="67.10" cy="246.50" r="1.9" fill="#aa0a28"/>
<circle cx="53.90" cy="253.20" r="1.9" fill="#aa0a28"/>
<circle cx="56.70" cy="256.60" r="1.9" fill="#aa0a28"/>
<circle cx="62.70" cy="256.60" r="1.9" fill="#aa0a28"/>
<circle cx="65.00" cy="255.80" r="1.9" fill="#aa0a28"/>
<circle cx="53.40" cy="259.10" r="1.9" fill="#aa0a28"/>
<circle cx="55.20" cy="261.10" r="1.9" fill="#aa0a28"/>
<circle cx="58.20" cy="261.80" r="1.9" fill="#aa0a28"/>
<circle cx="60.80" cy="261.10" r="1.9" fill="#aa0a28"/>
<circle cx="63.10" cy="259.60" r="1.9" fill="#aa0a28"/>
<circle cx="65.70" cy="257.70" r="1.9" fill="#aa0a28"/>
<circle cx="52.20" cy="266.40" r="1.9" fill="#aa0a28"/>
<circle cx="57.00" cy="268.40" r="1.9" fill="#aa0a28"/>
<circle cx="62.40" cy="268.40" r="1.9" fill="#aa0a28"/>
<circle cx="62.40" cy="270.80" r="1.9" fill="#aa0a28"/>
<circle cx="66.80" cy="267.60" r="1.9" fill="#aa0a28"/>
<circle cx="56.70" cy="274.20" r="1.9" fill="#aa0a28"/>
<circle cx="52.20" cy="280.10" r="1.9" fill="#aa0a28"/>
<circle cx="57.00" cy="283.10" r="1.9" fill="#aa0a28"/>
<circle cx="62.00" cy="283.10" r="1.9" fill="#aa0a28"/>
<circle cx="62.40" cy="285.90" r="1.9" fill="#aa0a28"/>
<circle cx="66.80" cy="282.30" r="1.9" fill="#aa0a28"/>
<circle cx="56.70" cy="290.70" r="1.9" fill="#aa0a28"/>
<circle cx="54.50" cy="247.50" r="1.9" fill="#aa0a28"/>
<circle cx="58.60" cy="249.40" r="1.9" fill="#aa0a28"/>
<circle cx="60.90" cy="249.20" r="1.9" fill="#aa0a28"/>
<circle cx="63.30" cy="248.20" r="1.9" fill="#aa0a28"/>
<circle cx="66.00" cy="247.00" r="1.9" fill="#aa0a28"/>
<circle cx="54.30" cy="260.20" r="1.9" fill="#aa0a28"/>
<circle cx="56.70" cy="261.60" r="1.9" fill="#aa0a28"/>
<circle cx="59.50" cy="261.80" r="1.9" fill="#aa0a28"/>
<circle cx="62.00" cy="260.40" r="1.9" fill="#aa0a28"/>
<circle cx="64.40" cy="258.70" r="1.9" fill="#aa0a28"/>
<line x1="88.80" y1="225.60" x2="88.80" y2="248.50" stroke="#444" stroke-width="1" />
<line x1="84.50" y1="225.60" x2="93.70" y2="225.60" stroke="#222" stroke-width="1" />
<line x1="84.30" y1="248.50" x2="93.70" y2="248.50" stroke="#222" stroke-width="1" />
<line x1="79.10" y1="237.40" x2="98.90" y2="237.40" stroke="#222" stroke-width="1.1" />
<polygon points="83.60,227.32 88.20,227.32 85.90,223.41" fill="#aa0a28"/>
<polygon points="89.60,226.82 94.20,226.82 91.90,222.91" fill="#aa0a28"/>
<polygon points="86.50,243.12 91.10,243.12 88.80,239.22" fill="#aa0a28"/>
<polygon points="83.90,250.03 88.50,250.03 86.20,246.12" fill="#aa0a28"/>
<polygon points="89.50,249.03 94.10,249.03 91.80,245.12" fill="#aa0a28"/>
<line x1="59.00" y1="215.80" x2="88.30" y2="215.80" stroke="#6a6a6a" stroke-width="1.8" />
<circle cx="72.53" cy="212.00" r="0.95" fill="#222"/>
<circle cx="75.28" cy="212.00" r="0.95" fill="#222"/>
<line x1="59.50" y1="298.80" x2="59.50" y2="301.60" stroke="#2a2a2a" stroke-width="1" />
<line x1="88.80" y1="298.80" x2="88.80" y2="301.60" stroke="#2a2a2a" stroke-width="1" />
<text x="59.40" y="312.20" font-size="7.5" text-anchor="middle" fill="#1c1c1c" font-weight="normal" class="t" style="">Dara</text>
<text x="59.40" y="321.60" font-size="7.5" text-anchor="middle" fill="#1c1c1c" font-weight="normal" class="t" style="">Naive</text>
<text x="88.90" y="312.20" font-size="7.5" text-anchor="middle" fill="#1c1c1c" font-weight="normal" class="t" style="">Dara</text>
<text x="89.00" y="321.00" font-size="7.5" text-anchor="middle" fill="#1c1c1c" font-weight="normal" class="t" style="">Exposed</text>
<text x="113.20" y="183.70" font-size="11.4" text-anchor="start" fill="#000" font-weight="bold" stroke="#000" stroke-width="0.35" style="">D</text>
<line x1="148.00" y1="205.20" x2="148.00" y2="299.30" stroke="#2a2a2a" stroke-width="1" />
<line x1="145.00" y1="298.80" x2="148.00" y2="298.80" stroke="#2a2a2a" stroke-width="1" />
<text x="0" y="0" transform="translate(142.69,301.50) scale(0.92,1)" font-size="8.0" text-anchor="end" fill="#1c1c1c" font-weight="normal" class="t" style="letter-spacing:0.75px;">0</text>
<line x1="145.00" y1="280.36" x2="148.00" y2="280.36" stroke="#2a2a2a" stroke-width="1" />
<text x="0" y="0" transform="translate(142.69,283.06) scale(0.92,1)" font-size="8.0" text-anchor="end" fill="#1c1c1c" font-weight="normal" class="t" style="letter-spacing:0.75px;">50</text>
<line x1="145.00" y1="261.92" x2="148.00" y2="261.92" stroke="#2a2a2a" stroke-width="1" />
<text x="0" y="0" transform="translate(142.69,264.62) scale(0.92,1)" font-size="8.0" text-anchor="end" fill="#1c1c1c" font-weight="normal" class="t" style="letter-spacing:0.75px;">100</text>
<line x1="145.00" y1="243.48" x2="148.00" y2="243.48" stroke="#2a2a2a" stroke-width="1" />
<text x="0" y="0" transform="translate(142.69,246.18) scale(0.92,1)" font-size="8.0" text-anchor="end" fill="#1c1c1c" font-weight="normal" class="t" style="letter-spacing:0.75px;">150</text>
<line x1="145.00" y1="225.04" x2="148.00" y2="225.04" stroke="#2a2a2a" stroke-width="1" />
<text x="0" y="0" transform="translate(142.69,227.74) scale(0.92,1)" font-size="8.0" text-anchor="end" fill="#1c1c1c" font-weight="normal" class="t" style="letter-spacing:0.75px;">200</text>
<line x1="145.00" y1="206.60" x2="148.00" y2="206.60" stroke="#2a2a2a" stroke-width="1" />
<text x="0" y="0" transform="translate(142.69,209.30) scale(0.92,1)" font-size="8.0" text-anchor="end" fill="#1c1c1c" font-weight="normal" class="t" style="letter-spacing:0.75px;">250</text>
<text x="0" y="0" font-size="9.6" text-anchor="middle" fill="#1c1c1c" stroke="#1c1c1c" stroke-width="0.4" textLength="106.83" lengthAdjust="spacing" transform="translate(122.80,251.65) rotate(-90) scale(0.6,1)">CD38 MFI (MM/NPC)</text>
<line x1="147.50" y1="298.80" x2="222.20" y2="298.80" stroke="#444" stroke-width="1.2" />
<line x1="169.80" y1="256.60" x2="169.80" y2="298.80" stroke="#555" stroke-width="1" />
<line x1="164.00" y1="256.60" x2="175.80" y2="256.60" stroke="#444" stroke-width="1" />
<line x1="159.20" y1="276.80" x2="180.70" y2="276.80" stroke="#444" stroke-width="1.1" />
<circle cx="169.70" cy="216.80" r="1.8" fill="#4c9c22"/>
<circle cx="169.80" cy="243.60" r="1.8" fill="#4c9c22"/>
<circle cx="167.10" cy="248.50" r="1.8" fill="#4c9c22"/>
<circle cx="172.50" cy="251.70" r="1.8" fill="#4c9c22"/>
<circle cx="167.10" cy="260.80" r="1.8" fill="#4c9c22"/>
<circle cx="170.10" cy="259.00" r="1.8" fill="#4c9c22"/>
<circle cx="172.50" cy="265.30" r="1.8" fill="#4c9c22"/>
<circle cx="164.10" cy="268.80" r="1.8" fill="#4c9c22"/>
<circle cx="175.40" cy="269.50" r="1.8" fill="#4c9c22"/>
<circle cx="169.90" cy="271.30" r="1.8" fill="#4c9c22"/>
<circle cx="169.90" cy="277.10" r="1.8" fill="#4c9c22"/>
<circle cx="160.80" cy="281.60" r="1.8" fill="#4c9c22"/>
<circle cx="164.40" cy="282.30" r="1.8" fill="#4c9c22"/>
<circle cx="168.10" cy="284.10" r="1.8" fill="#4c9c22"/>
<circle cx="171.60" cy="283.00" r="1.8" fill="#4c9c22"/>
<circle cx="175.50" cy="282.00" r="1.8" fill="#4c9c22"/>
<circle cx="179.10" cy="279.70" r="1.8" fill="#4c9c22"/>
<circle cx="164.20" cy="289.30" r="1.8" fill="#4c9c22"/>
<circle cx="175.50" cy="290.00" r="1.8" fill="#4c9c22"/>
<circle cx="167.10" cy="293.10" r="1.8" fill="#4c9c22"/>
<circle cx="172.60" cy="293.10" r="1.8" fill="#4c9c22"/>
<circle cx="176.80" cy="293.90" r="1.8" fill="#4c9c22"/>
<circle cx="162.90" cy="295.40" r="1.8" fill="#4c9c22"/>
<circle cx="166.00" cy="297.00" r="1.8" fill="#4c9c22"/>
<circle cx="169.20" cy="298.40" r="1.8" fill="#4c9c22"/>
<circle cx="171.80" cy="297.00" r="1.8" fill="#4c9c22"/>
<circle cx="174.40" cy="296.00" r="1.8" fill="#4c9c22"/>
<line x1="203.30" y1="291.80" x2="203.30" y2="301.30" stroke="#333" stroke-width="0.9" />
<line x1="192.20" y1="294.80" x2="214.30" y2="294.80" stroke="#333" stroke-width="1" />
<rect x="192.90" y="291.40" width="3.40" height="3.40" fill="#e88c14"/>
<rect x="198.80" y="289.10" width="3.40" height="3.40" fill="#e88c14"/>
<rect x="204.00" y="290.30" width="3.40" height="3.40" fill="#e88c14"/>
<rect x="197.60" y="294.00" width="3.40" height="3.40" fill="#e88c14"/>
<rect x="205.90" y="295.50" width="3.40" height="3.40" fill="#e88c14"/>
<rect x="201.60" y="296.60" width="3.40" height="3.40" fill="#e88c14"/>
<rect x="209.80" y="293.30" width="3.40" height="3.40" fill="#e88c14"/>
<line x1="169.70" y1="207.80" x2="203.40" y2="207.80" stroke="#6a6a6a" stroke-width="1.8" />
<circle cx="186.60" cy="203.80" r="0.95" fill="#222"/>
<line x1="169.80" y1="298.80" x2="169.80" y2="301.60" stroke="#2a2a2a" stroke-width="1" />
<line x1="203.30" y1="298.80" x2="203.30" y2="301.60" stroke="#2a2a2a" stroke-width="1" />
<text x="169.80" y="312.20" font-size="7.5" text-anchor="middle" fill="#1c1c1c" font-weight="normal" class="t" style="">Dara</text>
<text x="170.00" y="321.40" font-size="7.5" text-anchor="middle" fill="#1c1c1c" font-weight="normal" class="t" style="">Sensitive</text>
<text x="203.30" y="312.20" font-size="7.5" text-anchor="middle" fill="#1c1c1c" font-weight="normal" class="t" style="">Dara</text>
<text x="203.10" y="321.40" font-size="7.5" text-anchor="middle" fill="#1c1c1c" font-weight="normal" class="t" style="">Resistant</text>
<text x="227.00" y="183.70" font-size="11.4" text-anchor="start" fill="#000" font-weight="bold" stroke="#000" stroke-width="0.35" style="">E</text>
<line x1="261.20" y1="205.40" x2="261.20" y2="299.50" stroke="#2a2a2a" stroke-width="1" />
<line x1="258.20" y1="299.00" x2="261.20" y2="299.00" stroke="#2a2a2a" stroke-width="1" />
<text x="0" y="0" transform="translate(255.89,301.70) scale(0.92,1)" font-size="8.0" text-anchor="end" fill="#1c1c1c" font-weight="normal" class="t" style="letter-spacing:0.75px;">0</text>
<line x1="258.20" y1="280.76" x2="261.20" y2="280.76" stroke="#2a2a2a" stroke-width="1" />
<text x="0" y="0" transform="translate(255.89,283.46) scale(0.92,1)" font-size="8.0" text-anchor="end" fill="#1c1c1c" font-weight="normal" class="t" style="letter-spacing:0.75px;">25</text>
<line x1="258.20" y1="262.52" x2="261.20" y2="262.52" stroke="#2a2a2a" stroke-width="1" />
<text x="0" y="0" transform="translate(255.89,265.22) scale(0.92,1)" font-size="8.0" text-anchor="end" fill="#1c1c1c" font-weight="normal" class="t" style="letter-spacing:0.75px;">50</text>
<line x1="258.20" y1="244.28" x2="261.20" y2="244.28" stroke="#2a2a2a" stroke-width="1" />
<text x="0" y="0" transform="translate(255.89,246.98) scale(0.92,1)" font-size="8.0" text-anchor="end" fill="#1c1c1c" font-weight="normal" class="t" style="letter-spacing:0.75px;">75</text>
<line x1="258.20" y1="226.04" x2="261.20" y2="226.04" stroke="#2a2a2a" stroke-width="1" />
<text x="0" y="0" transform="translate(255.89,228.74) scale(0.92,1)" font-size="8.0" text-anchor="end" fill="#1c1c1c" font-weight="normal" class="t" style="letter-spacing:0.75px;">100</text>
<line x1="258.20" y1="207.80" x2="261.20" y2="207.80" stroke="#2a2a2a" stroke-width="1" />
<text x="0" y="0" transform="translate(255.89,210.50) scale(0.92,1)" font-size="8.0" text-anchor="end" fill="#1c1c1c" font-weight="normal" class="t" style="letter-spacing:0.75px;">125</text>
<text x="0" y="0" font-size="9.6" text-anchor="middle" fill="#1c1c1c" stroke="#1c1c1c" stroke-width="0.4" textLength="129.50" lengthAdjust="spacing" transform="translate(236.50,251.15) rotate(-90) scale(0.6,1)"><tspan stroke-width="0.4">Viable MM</tspan><tspan stroke-width="0.3"> cells</tspan><tspan stroke-width="0.15"> (norm %)</tspan></text>
<line x1="258.70" y1="299.00" x2="377.70" y2="299.00" stroke="#2a2a2a" stroke-width="1.1" />
<line x1="261.40" y1="299.00" x2="261.40" y2="301.80" stroke="#2a2a2a" stroke-width="1" />
<text x="0" y="0" transform="translate(261.75,311.70) scale(0.92,1)" font-size="8.0" text-anchor="middle" fill="#1c1c1c" font-weight="normal" class="t" style="letter-spacing:0.75px;">0</text>
<line x1="284.20" y1="299.00" x2="284.20" y2="301.80" stroke="#2a2a2a" stroke-width="1" />
<text x="0" y="0" transform="translate(284.55,311.70) scale(0.92,1)" font-size="8.0" text-anchor="middle" fill="#1c1c1c" font-weight="normal" class="t" style="letter-spacing:0.75px;">50</text>
<line x1="307.00" y1="299.00" x2="307.00" y2="301.80" stroke="#2a2a2a" stroke-width="1" />
<text x="0" y="0" transform="translate(307.35,311.70) scale(0.92,1)" font-size="8.0" text-anchor="middle" fill="#1c1c1c" font-weight="normal" class="t" style="letter-spacing:0.75px;">100</text>
<line x1="329.80" y1="299.00" x2="329.80" y2="301.80" stroke="#2a2a2a" stroke-width="1" />
<text x="0" y="0" transform="translate(330.14,311.70) scale(0.92,1)" font-size="8.0" text-anchor="middle" fill="#1c1c1c" font-weight="normal" class="t" style="letter-spacing:0.75px;">150</text>
<line x1="352.60" y1="299.00" x2="352.60" y2="301.80" stroke="#2a2a2a" stroke-width="1" />
<text x="0" y="0" transform="translate(352.94,311.70) scale(0.92,1)" font-size="8.0" text-anchor="middle" fill="#1c1c1c" font-weight="normal" class="t" style="letter-spacing:0.75px;">200</text>
<line x1="375.40" y1="299.00" x2="375.40" y2="301.80" stroke="#2a2a2a" stroke-width="1" />
<text x="0" y="0" transform="translate(375.75,311.70) scale(0.92,1)" font-size="8.0" text-anchor="middle" fill="#1c1c1c" font-weight="normal" class="t" style="letter-spacing:0.75px;">250</text>
<text x="0" y="0" font-size="9.3" text-anchor="start" fill="#1c1c1c" stroke="#1c1c1c" stroke-width="0.4" textLength="111.67" lengthAdjust="spacing" transform="translate(286.30,324.90) scale(0.6,1)">CD38 MFI (MM/NPCs)</text>
<line x1="261.50" y1="244.40" x2="364.10" y2="289.70" stroke="#3d5f93" stroke-width="1.1" />
<circle cx="261.50" cy="226.10" r="1.9" fill="#aa0a28"/>
<circle cx="268.20" cy="230.10" r="1.9" fill="#aa0a28"/>
<circle cx="264.70" cy="234.10" r="1.9" fill="#aa0a28"/>
<circle cx="266.10" cy="235.50" r="1.9" fill="#aa0a28"/>
<circle cx="271.40" cy="233.90" r="1.9" fill="#aa0a28"/>
<circle cx="269.80" cy="238.60" r="1.9" fill="#aa0a28"/>
<circle cx="261.50" cy="241.30" r="1.9" fill="#aa0a28"/>
<circle cx="263.80" cy="240.30" r="1.9" fill="#aa0a28"/>
<circle cx="265.80" cy="243.00" r="1.9" fill="#aa0a28"/>
<circle cx="268.20" cy="243.30" r="1.9" fill="#aa0a28"/>
<circle cx="280.90" cy="242.20" r="1.9" fill="#aa0a28"/>
<circle cx="282.60" cy="242.90" r="1.9" fill="#aa0a28"/>
<circle cx="263.40" cy="248.00" r="1.9" fill="#aa0a28"/>
<circle cx="266.90" cy="252.70" r="1.9" fill="#aa0a28"/>
<circle cx="268.20" cy="251.40" r="1.9" fill="#aa0a28"/>
<circle cx="263.80" cy="256.10" r="1.9" fill="#aa0a28"/>
<circle cx="302.90" cy="241.30" r="1.9" fill="#aa0a28"/>
<circle cx="281.10" cy="252.40" r="1.9" fill="#aa0a28"/>
<circle cx="282.20" cy="255.10" r="1.9" fill="#aa0a28"/>
<circle cx="279.30" cy="258.00" r="1.9" fill="#aa0a28"/>
<circle cx="285.30" cy="258.00" r="1.9" fill="#aa0a28"/>
<circle cx="271.80" cy="262.30" r="1.9" fill="#aa0a28"/>
<circle cx="288.90" cy="265.50" r="1.9" fill="#aa0a28"/>
<circle cx="297.50" cy="272.20" r="1.9" fill="#aa0a28"/>
<circle cx="273.20" cy="278.50" r="1.9" fill="#aa0a28"/>
<circle cx="298.70" cy="281.70" r="1.9" fill="#aa0a28"/>
<circle cx="296.00" cy="290.30" r="1.9" fill="#aa0a28"/>
<circle cx="311.00" cy="264.60" r="1.9" fill="#aa0a28"/>
<circle cx="309.20" cy="267.70" r="1.9" fill="#aa0a28"/>
<circle cx="319.80" cy="258.20" r="1.9" fill="#aa0a28"/>
<circle cx="324.30" cy="264.20" r="1.9" fill="#aa0a28"/>
<circle cx="330.40" cy="281.70" r="1.9" fill="#aa0a28"/>
<circle cx="364.10" cy="280.20" r="1.9" fill="#aa0a28"/>
<text class="t" x="334.9" y="214.8" font-size="7.4" fill="#1c1c1c" textLength="32.2" lengthAdjust="spacing"><tspan font-style="italic">P</tspan> &lt; .0001</text>
<text class="t" x="334.9" y="223.6" font-size="7.4" fill="#1c1c1c"><tspan font-style="italic">r</tspan> = -.66</text>
<text x="387.60" y="183.70" font-size="11.4" text-anchor="start" fill="#000" font-weight="bold" stroke="#000" stroke-width="0.35" style="">F</text>
<line x1="421.60" y1="207.80" x2="421.60" y2="298.90" stroke="#2a2a2a" stroke-width="1" />
<line x1="418.60" y1="298.20" x2="421.60" y2="298.20" stroke="#2a2a2a" stroke-width="1" />
<text x="0" y="0" transform="translate(415.29,300.90) scale(0.92,1)" font-size="8.0" text-anchor="end" fill="#1c1c1c" font-weight="normal" class="t" style="letter-spacing:0.75px;">0</text>
<line x1="418.60" y1="281.70" x2="421.60" y2="281.70" stroke="#2a2a2a" stroke-width="1" />
<text x="0" y="0" transform="translate(415.29,284.40) scale(0.92,1)" font-size="8.0" text-anchor="end" fill="#1c1c1c" font-weight="normal" class="t" style="letter-spacing:0.75px;">20</text>
<line x1="418.60" y1="265.20" x2="421.60" y2="265.20" stroke="#2a2a2a" stroke-width="1" />
<text x="0" y="0" transform="translate(415.29,267.90) scale(0.92,1)" font-size="8.0" text-anchor="end" fill="#1c1c1c" font-weight="normal" class="t" style="letter-spacing:0.75px;">40</text>
<line x1="418.60" y1="248.70" x2="421.60" y2="248.70" stroke="#2a2a2a" stroke-width="1" />
<text x="0" y="0" transform="translate(415.29,251.40) scale(0.92,1)" font-size="8.0" text-anchor="end" fill="#1c1c1c" font-weight="normal" class="t" style="letter-spacing:0.75px;">60</text>
<line x1="418.60" y1="232.20" x2="421.60" y2="232.20" stroke="#2a2a2a" stroke-width="1" />
<text x="0" y="0" transform="translate(415.29,234.90) scale(0.92,1)" font-size="8.0" text-anchor="end" fill="#1c1c1c" font-weight="normal" class="t" style="letter-spacing:0.75px;">80</text>
<line x1="418.60" y1="215.70" x2="421.60" y2="215.70" stroke="#2a2a2a" stroke-width="1" />
<text x="0" y="0" transform="translate(415.29,218.40) scale(0.92,1)" font-size="8.0" text-anchor="end" fill="#1c1c1c" font-weight="normal" class="t" style="letter-spacing:0.75px;">100</text>
<text x="0" y="0" font-size="9.6" text-anchor="middle" fill="#1c1c1c" stroke="#1c1c1c" stroke-width="0.4" textLength="129.67" lengthAdjust="spacing" transform="translate(396.50,251.40) rotate(-90) scale(0.6,1)"><tspan stroke-width="0.4">Viable MM</tspan><tspan stroke-width="0.3"> cells</tspan><tspan stroke-width="0.15"> (norm %)</tspan></text>
<line x1="422.00" y1="232.30" x2="513.50" y2="232.30" stroke="#6a6a6a" stroke-width="0.8" stroke-dasharray="2.2,0.8"/>
<line x1="431.10" y1="253.20" x2="431.10" y2="248.50" stroke="#444" stroke-width="1" />
<line x1="429.10" y1="248.50" x2="433.10" y2="248.50" stroke="#333" stroke-width="1.2" />
<rect x="427.20" y="253.20" width="7.80" height="45.20" fill="#9caf9f"/>
<line x1="442.65" y1="214.20" x2="442.65" y2="211.20" stroke="#444" stroke-width="1" />
<line x1="440.65" y1="211.20" x2="444.65" y2="211.20" stroke="#333" stroke-width="1.2" />
<rect x="439.20" y="214.20" width="6.90" height="84.20" fill="#2f6249"/>
<line x1="461.30" y1="253.30" x2="461.30" y2="250.30" stroke="#444" stroke-width="1" />
<line x1="459.30" y1="250.30" x2="463.30" y2="250.30" stroke="#333" stroke-width="1.2" />
<rect x="457.40" y="253.30" width="7.80" height="45.10" fill="#efc88c"/>
<line x1="473.10" y1="221.30" x2="473.10" y2="213.60" stroke="#444" stroke-width="1" />
<line x1="471.10" y1="213.60" x2="475.10" y2="213.60" stroke="#333" stroke-width="1.2" />
<rect x="469.20" y="221.30" width="7.80" height="77.10" fill="#dc8a1c"/>
<line x1="492.00" y1="235.10" x2="492.00" y2="229.90" stroke="#444" stroke-width="1" />
<line x1="490.00" y1="229.90" x2="494.00" y2="229.90" stroke="#333" stroke-width="1.2" />
<rect x="488.30" y="235.10" width="7.40" height="63.30" fill="#bad3ef"/>
<line x1="503.60" y1="224.10" x2="503.60" y2="221.90" stroke="#444" stroke-width="1" />
<line x1="501.60" y1="221.90" x2="505.60" y2="221.90" stroke="#333" stroke-width="1.2" />
<rect x="499.80" y="224.10" width="7.60" height="74.30" fill="#5da2dd"/>
<line x1="419.60" y1="298.70" x2="513.50" y2="298.70" stroke="#2a2a2a" stroke-width="1.1" />
<line x1="436.60" y1="298.70" x2="436.60" y2="301.50" stroke="#2a2a2a" stroke-width="1" />
<text x="0" y="0" transform="translate(436.95,311.90) scale(0.92,1)" font-size="8.0" text-anchor="middle" fill="#1c1c1c" font-weight="normal" class="t" style="letter-spacing:0.75px;">1238</text>
<line x1="467.10" y1="298.70" x2="467.10" y2="301.50" stroke="#2a2a2a" stroke-width="1" />
<text x="0" y="0" transform="translate(467.45,311.90) scale(0.92,1)" font-size="8.0" text-anchor="middle" fill="#1c1c1c" font-weight="normal" class="t" style="letter-spacing:0.75px;">1196 T1</text>
<line x1="497.60" y1="298.70" x2="497.60" y2="301.50" stroke="#2a2a2a" stroke-width="1" />
<text x="0" y="0" transform="translate(497.95,311.90) scale(0.92,1)" font-size="8.0" text-anchor="middle" fill="#1c1c1c" font-weight="normal" class="t" style="letter-spacing:0.75px;">1230</text>
<line x1="426.10" y1="204.90" x2="444.10" y2="204.90" stroke="#6a6a6a" stroke-width="1.8" />
<circle cx="432.30" cy="200.90" r="0.95" fill="#222"/>
<circle cx="435.05" cy="200.90" r="0.95" fill="#222"/>
<circle cx="437.80" cy="200.90" r="0.95" fill="#222"/>
<line x1="459.00" y1="205.20" x2="476.60" y2="205.20" stroke="#6a6a6a" stroke-width="1.8" />
<circle cx="466.32" cy="200.90" r="0.95" fill="#222"/>
<circle cx="469.07" cy="200.90" r="0.95" fill="#222"/>
<line x1="489.00" y1="205.20" x2="506.60" y2="205.20" stroke="#6a6a6a" stroke-width="1.8" />
<circle cx="497.90" cy="200.90" r="0.95" fill="#222"/>
<rect x="430.10" y="188.70" width="5.70" height="5.80" fill="#888"/>
<text x="438.70" y="194.10" font-size="7.6" text-anchor="start" fill="#1c1c1c" font-weight="normal" class="t" style="">Dara</text>
<rect x="462.50" y="189.00" width="6.20" height="5.80" fill="#000"/>
<text x="471.50" y="194.10" font-size="7.6" text-anchor="start" fill="#1c1c1c" font-weight="normal" textLength="33.4" lengthAdjust="spacingAndGlyphs" class="t" style="">Dara + CL</text>
<rect x="0" y="0" width="520" height="1" fill="#000"/>
<rect x="0" y="0" width="1" height="334" fill="#000"/>
<rect x="518" y="0" width="1" height="334" fill="#d8d8d8"/>
<rect x="519" y="0" width="1" height="334" fill="#000"/>
<rect x="0" y="332" width="520" height="1" fill="#c8c8c8"/>
<rect x="0" y="333" width="520" height="1" fill="#000"/>
</svg>
</body></html>
